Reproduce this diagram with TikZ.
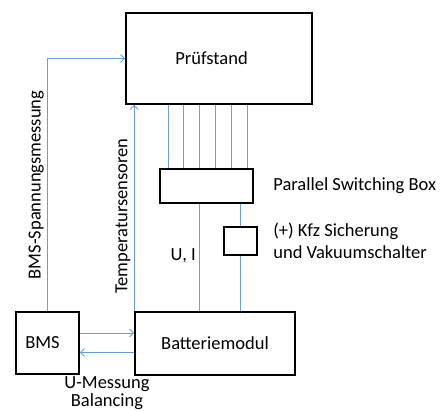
\documentclass[tikz,border=0pt]{standalone}
\usepackage{fontspec}
\setmainfont{Carlito}
\usepackage{xcolor}
\usetikzlibrary{arrows.meta, positioning}
\definecolor{sigblue}{RGB}{105,155,225}

\begin{document}
\begin{tikzpicture}[x=1pt, y=-1pt, every node/.style={font=\fontsize{18.5}{22}\selectfont, text=black},
    block/.style={draw, line width=1.6pt, inner sep=0pt},
    sig/.style={sigblue, line width=0.9pt},
    sigarrow/.style={sig, -{Straight Barb[length=4pt, width=8pt]}}]
    \useasboundingbox (0,0) rectangle (447,410);
    \node[block, minimum width=186pt, minimum height=91pt, label={[xshift=-7.5pt]center:Prüfstand}] (pruef) at (219,58.5) {};
    \node[block, minimum width=93pt, minimum height=34pt] (psb) at (206.5,186) {};
    \node[block, minimum width=33pt, minimum height=28pt] (fuse) at (240.5,241) {};
    \node[block, minimum width=160pt, minimum height=63pt] (batt) at (215,343.5) {Batteriemodul};
    \node[block, minimum width=63pt, minimum height=62pt, label={[xshift=-5pt]center:BMS}] (bms) at (47.5,343) {};
    \node[right=16pt of psb] (psblabel) {Parallel Switching Box};
    \node[right=12pt of fuse, align=left] (fuselabel) {(+) Kfz Sicherung\\und Vakuumschalter};
    \node[align=center, font=\fontsize{18.5}{18}\selectfont] (umess) at (107,393) {U-Messung\\Balancing};
    % lines between test bench and switching box
    \foreach \x in {168,183,199.5,215,231,247}
        \draw[sig] (\x,0 |- pruef.south) -- (\x,0 |- psb.north);
    \draw[sig] (199.5,0 |- psb.south) -- node[pos=0.48, left] (ui) {U, I} (199.5,0 |- batt.north);
    \draw[sig] (fuse.north |- psb.south) -- (fuse.north);
    \draw[sig] (fuse.south) -- (fuse.south |- batt.north);
    \draw[sigarrow] (bms.north) |- node[pos=0.25, above, sloped] (bmsvolt) {BMS-Spannungsmessung} (pruef.west);
    \draw[sigarrow] (batt.north west) -- node[pos=0.46, above, sloped] (temp) {Temperatursensoren} (batt.north west |- pruef.south);
    \draw[sigarrow] ([yshift=10pt]bms.east) -- ([yshift=10pt]bms.east -| batt.west);
    \draw[sigarrow] ([yshift=-9pt]batt.west) -- ([yshift=-9pt]batt.west -| bms.east);
\end{tikzpicture}
\end{document}
